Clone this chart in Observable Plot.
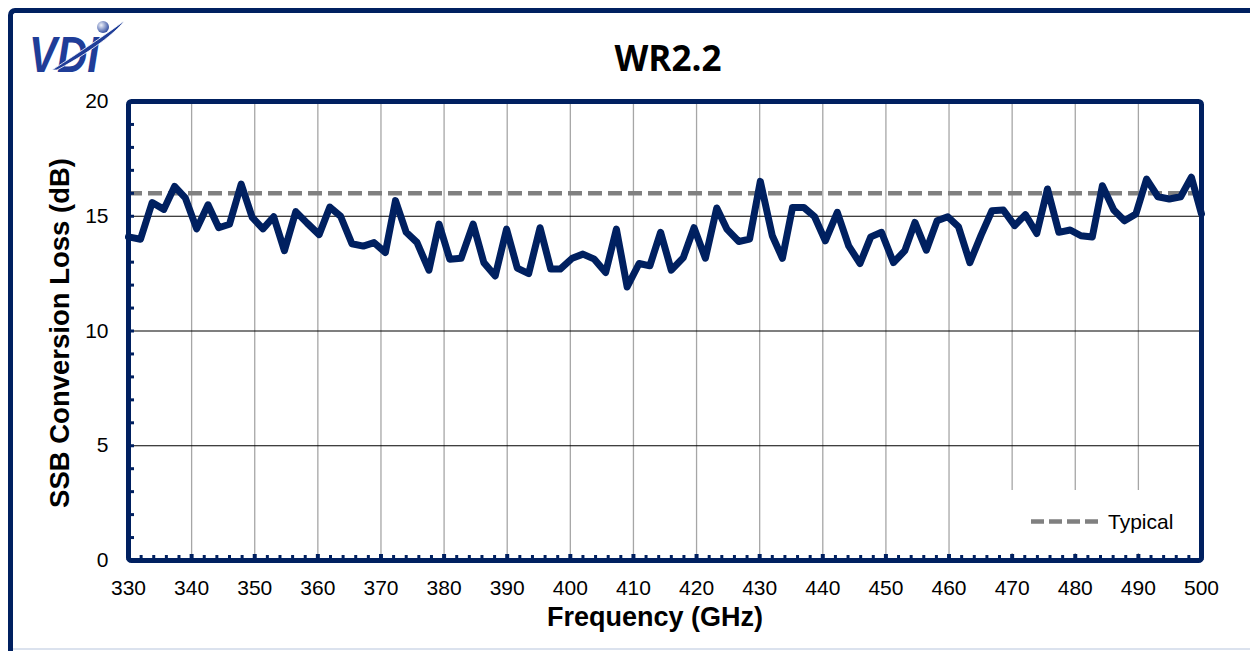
<!DOCTYPE html>
<html>
<head>
<meta charset="utf-8">
<script src="https://cdn.jsdelivr.net/npm/d3@7"></script>
<script src="https://cdn.jsdelivr.net/npm/@observablehq/plot@0.6"></script>
<style>
  html, body { margin: 0; padding: 0; background: #fff; }
  #wrap { position: relative; width: 1250px; height: 651px; overflow: hidden; font-family: "Liberation Sans", Arial, sans-serif; }
  #outer { position: absolute; left: 8px; top: 8px; width: 1300px; height: 700px; border-top: 5px solid #002060; border-left: 5px solid #002060; border-top-left-radius: 7px; box-sizing: border-box; }
  #bottomLine { position: absolute; left: 13px; top: 648px; width: 1250px; height: 2px; background: #dbe2ee; }
  #chart { position: absolute; left: 0; top: 0; }
  #title { position: absolute; left: 568px; width: 200px; top: 40px; text-align: center; font-family: "Open Sans", "Liberation Sans", sans-serif; font-weight: bold; font-size: 35px; line-height: 35px; color: #000; }
  #logo { position: absolute; left: 0; top: 0; }
  #legend { position: absolute; left: 1000px; top: 490px; width: 197px; height: 63px; background: #fff; }
</style>
</head>
<body>
<div id="wrap">
  <div id="outer"></div>
  <div id="bottomLine"></div>
  <div id="chart"></div>
  <svg id="logo" width="140" height="85">
    <defs>
      <radialGradient id="ball" cx="35%" cy="35%" r="70%">
        <stop offset="0" stop-color="#eef1fa"/>
        <stop offset="1" stop-color="#2f4b9f"/>
      </radialGradient>
    </defs>
    <text x="29" y="72" font-family="Liberation Sans, Arial, sans-serif" font-weight="bold" font-style="italic" font-size="50" fill="#1f3d98" textLength="70" lengthAdjust="spacingAndGlyphs">VDI</text>
    <path d="M52,70 C80,52 108,33 124,21 C120,28 98,48 57,70 Z" fill="#1f3d98" stroke="#fff" stroke-width="0.8"/>
    <circle cx="103" cy="27" r="6" fill="url(#ball)"/>
  </svg>
  <div id="title">WR2.2</div>
  <div id="legend"></div>
</div>
<script>
// ---- data ----
const freqGHz = [
  330, 331.9, 333.75, 335.6, 337.3, 339.0, 340.8, 342.6, 344.3, 346.0, 347.85, 349.6, 351.3, 353.0, 354.7, 356.5, 358.3, 360.2, 361.9, 363.6, 365.4, 367.2, 368.9,
  370.7, 372.3, 374.0, 375.7, 377.6, 379.2, 380.9, 382.7, 384.6, 386.3, 388.1, 389.9, 391.6, 393.4, 395.2, 396.9, 398.4, 400.3, 402.0, 403.8, 405.6, 407.3, 409.0,
  410.9, 412.6, 414.3, 416.0, 417.9, 419.6, 421.4, 423.2, 424.8, 426.7, 428.4, 430.1, 432.0, 433.6, 435.2, 437.0, 438.7, 440.4, 442.3, 444.1, 445.9, 447.6, 449.3,
  451.2, 453.0, 454.6, 456.4, 458.1, 459.8, 461.5, 463.3, 465.1, 466.8, 468.6, 470.4, 472.1, 473.9, 475.6, 477.4, 479.2, 480.9, 482.7, 484.3, 486.1, 487.8, 489.6,
  491.3, 493.1, 494.9, 496.7, 498.4, 500
];
const ssbLossDb = [
  14.1, 14.0, 15.6, 15.3, 16.3, 15.8, 14.45, 15.5, 14.5, 14.65, 16.4, 14.95, 14.45, 14.98, 13.5, 15.2, 14.7, 14.2, 15.4, 15.0, 13.8, 13.7, 13.85,
  13.42, 15.68, 14.3, 13.86, 12.65, 14.66, 13.13, 13.17, 14.66, 12.98, 12.4, 14.44, 12.74, 12.5, 14.5, 12.7, 12.7, 13.17, 13.35, 13.13, 12.55, 14.44, 11.92,
  12.94, 12.84, 14.3, 12.65, 13.2, 14.5, 13.17, 15.36, 14.44, 13.9, 14.0, 16.52, 14.15, 13.17, 15.38, 15.38, 14.98, 13.93, 15.17, 13.71, 12.94, 14.1, 14.3,
  12.98, 13.5, 14.73, 13.52, 14.8, 14.98, 14.54, 12.98, 14.19, 15.24, 15.27, 14.59, 15.07, 14.25, 16.19, 14.3, 14.4, 14.15, 14.1, 16.33, 15.27, 14.8, 15.1,
  16.62, 15.85, 15.75, 15.85, 16.7, 15.1
];
const typicalDb = 16;
const xTicks = [330, 340, 350, 360, 370, 380, 390, 400, 410, 420, 430, 440, 450, 460, 470, 480, 490, 500];
const xMinorTicks = [332,334,336,338,342,344,346,348,352,354,356,358,362,364,366,368,372,374,376,378,382,384,386,388,392,394,396,398,402,404,406,408,412,414,416,418,422,424,426,428,432,434,436,438,442,444,446,448,452,454,456,458,462,464,466,468,472,474,476,478,482,484,486,488,492,494,496,498];
const yTicks = [0, 5, 10, 15, 20];
const yMinorTicks = [1,2,3,4,5,6,7,8,9,10,11,12,13,14,15,16,17,18,19];
const xGridTicks = [340, 350, 360, 370, 380, 390, 400, 410, 420, 430, 440, 450, 460, 470, 480, 490];
const yGridTicks = [5, 10, 15];
const chartTitle = "WR2.2";
const xTitle = "Frequency (GHz)";
const yTitle = "SSB Conversion Loss (dB)";
const legendLabel = "Typical";

const rows = freqGHz.map((f, i) => ({f, v: ssbLossDb[i]}));
const navy = "#002060";

const chart = Plot.plot({
  width: 1250,
  height: 651,
  marginLeft: 128,
  marginRight: 49,
  marginTop: 101,
  marginBottom: 91,
  x: {domain: [330, 500]},
  y: {domain: [0, 20]},
  style: {fontFamily: "'Liberation Sans', Arial, sans-serif", fontSize: "21px", color: "#000", background: "transparent", overflow: "visible"},
  marks: [
    Plot.ruleX(xGridTicks, {stroke: "#a6a6a6", strokeWidth: 1.3}),
    Plot.ruleY(yGridTicks, {stroke: "#000", strokeWidth: 1.2}),
    Plot.ruleY([typicalDb], {stroke: "#808080", strokeWidth: 4.5, strokeDasharray: "14,6"}),
    Plot.line(rows, {x: "f", y: "v", stroke: navy, strokeWidth: 7, strokeLinejoin: "round", strokeLinecap: "round"}),
    Plot.axisX({ticks: xTicks, tickSize: 0, tickPadding: 20, label: null, fontSize: 21}),
    Plot.axisY({ticks: yTicks, tickSize: 0, tickPadding: 20, label: null, fontSize: 21}),
    Plot.axisX({ticks: xMinorTicks, tickSize: -5, tickFormat: () => "", stroke: navy, strokeWidth: 3, label: null}),
    Plot.axisX({ticks: xTicks, tickSize: -6, tickFormat: () => "", stroke: navy, strokeWidth: 4, label: null}),
    Plot.axisY({ticks: yMinorTicks, tickSize: -6, tickFormat: () => "", stroke: navy, strokeWidth: 3, label: null}),
    Plot.frame({stroke: navy, strokeWidth: 5, rx: 3}),
    Plot.text([xTitle], {frameAnchor: "bottom", lineAnchor: "middle", textAnchor: "middle", dx: -10, dy: 57, fontSize: 27, fontWeight: "bold", fill: "#000"}),
    Plot.text([yTitle], {frameAnchor: "left", lineAnchor: "middle", textAnchor: "middle", dx: -68, dy: 2, rotate: -90, fontSize: 27.5, fontWeight: "bold", fill: "#000"})
  ]
});
document.getElementById("chart").appendChild(chart);
document.getElementById("title").textContent = chartTitle;

// legend
const lg = d3.select("#legend").append("svg").attr("width", 197).attr("height", 63);
lg.append("line").attr("x1", 31).attr("x2", 100).attr("y1", 31.5).attr("y2", 31.5)
  .attr("stroke", "#808080").attr("stroke-width", 4.5).attr("stroke-dasharray", "13,5");
lg.append("text").attr("x", 108).attr("y", 38.5).attr("font-size", 21)
  .attr("font-family", "'Liberation Sans', Arial, sans-serif").attr("fill", "#000").text(legendLabel);
</script>
</body>
</html>
